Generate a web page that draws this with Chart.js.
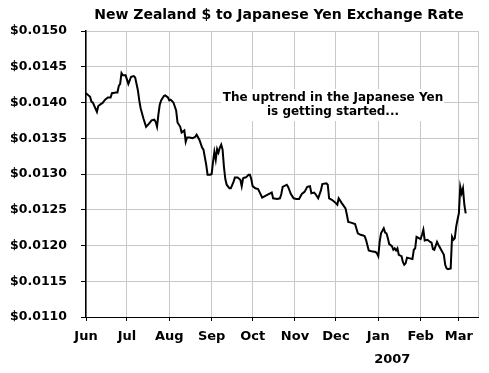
<!DOCTYPE html>
<html>
<head>
<meta charset="utf-8">
<script src="https://cdn.jsdelivr.net/npm/chart.js@4/dist/chart.umd.min.js"></script>
<style>
  html, body { margin: 0; padding: 0; background: #fff; }
  #wrap { width: 489px; height: 373px; }
</style>
</head>
<body>
<div id="wrap"><canvas id="rateChart" width="489" height="373"></canvas></div>
<script>
// NZD -> JPY, days counted from 1 Jun 2006
const days = [
  0, 3, 4, 5, 8, 9, 11, 12, 14, 16, 18, 19, 22, 23, 24, 25, 26, 27, 29, 31,
  32, 33, 35, 36, 38, 39, 40, 42, 44, 46, 48, 50, 51, 52, 53, 54, 55, 57, 58, 60,
  61, 62, 64, 66, 67, 69, 70, 72, 73, 74, 76, 78, 80, 81, 83, 85, 86, 88, 89, 91,
  92, 93, 94, 95, 96, 97, 98, 99, 100, 101, 102, 103, 105, 106, 108, 109, 111, 113, 114, 115,
  116, 117, 119, 120, 121, 122, 124, 126, 127, 129, 131, 133, 136, 137, 140, 142, 143, 144, 147, 148,
  150, 152, 154, 156, 158, 160, 162, 164, 165, 167, 168, 170, 172, 173, 176, 177, 178, 180, 182, 184,
  185, 187, 190, 191, 192, 194, 197, 199, 201, 203, 204, 205, 207, 209, 212, 213, 214, 215, 216, 218,
  219, 220, 221, 222, 224, 225, 226, 227, 228, 229, 231, 232, 233, 234, 235, 237, 239, 240, 241, 242,
  244, 245, 246, 247, 248, 250, 252, 253, 254, 255, 257, 258, 260, 262, 263, 264, 265, 267, 268, 269,
  270, 271, 272, 273, 274, 275, 276, 277, 278
];
const rates = [
  0.01413, 0.01408, 0.01401, 0.01400, 0.01387, 0.01395, 0.01398, 0.01399, 0.01404, 0.01407,
  0.01407, 0.01413, 0.01414, 0.01414, 0.01423, 0.01426, 0.01441, 0.01438, 0.01438, 0.01426,
  0.01431, 0.01436, 0.01437, 0.01435, 0.01417, 0.01403, 0.01392, 0.01378, 0.01366, 0.01370,
  0.01375, 0.01376, 0.01373, 0.01366, 0.01383, 0.01397, 0.01403, 0.01409, 0.01410, 0.01407,
  0.01403, 0.01404, 0.01400, 0.01389, 0.01372, 0.01366, 0.01358, 0.01361, 0.01345, 0.01351,
  0.01351, 0.01350, 0.01352, 0.01355, 0.01348, 0.01337, 0.01334, 0.01313, 0.01299, 0.01299,
  0.01300, 0.01317, 0.01331, 0.01320, 0.01335, 0.01330, 0.01337, 0.01341, 0.01334, 0.01310,
  0.01293, 0.01285, 0.01280, 0.01280, 0.01289, 0.01295, 0.01295, 0.01292, 0.01283, 0.01294,
  0.01295, 0.01295, 0.01299, 0.01299, 0.01293, 0.01283, 0.01280, 0.01279, 0.01275, 0.01267,
  0.01269, 0.01271, 0.01274, 0.01266, 0.01265, 0.01266, 0.01272, 0.01282, 0.01285, 0.01282,
  0.01272, 0.01266, 0.01265, 0.01265, 0.01272, 0.01275, 0.01282, 0.01283, 0.01273, 0.01274,
  0.01272, 0.01266, 0.01277, 0.01286, 0.01287, 0.01285, 0.01266, 0.01264, 0.01261, 0.01257,
  0.01266, 0.01260, 0.01252, 0.01243, 0.01233, 0.01232, 0.01230, 0.01217, 0.01215, 0.01214,
  0.01213, 0.01208, 0.01193, 0.01192, 0.01191, 0.01189, 0.01185, 0.01205, 0.01217, 0.01224,
  0.01218, 0.01217, 0.01210, 0.01202, 0.01199, 0.01194, 0.01196, 0.01193, 0.01196, 0.01187,
  0.01185, 0.01177, 0.01173, 0.01175, 0.01183, 0.01182, 0.01181, 0.01194, 0.01196, 0.01212,
  0.01210, 0.01209, 0.01215, 0.01222, 0.01207, 0.01208, 0.01205, 0.01204, 0.01195, 0.01194,
  0.01205, 0.01201, 0.01194, 0.01187, 0.01173, 0.01168, 0.01167, 0.01168, 0.01212, 0.01208,
  0.01210, 0.01226, 0.01236, 0.01245, 0.01282, 0.01273, 0.01280, 0.01257, 0.01245
];

// month starts (days from 1 Jun 2006) and their labels
const monthDays = [0, 30, 61, 92, 122, 153, 183, 214, 245, 273];
const monthLabels = ['Jun', 'Jul', 'Aug', 'Sep', 'Oct', 'Nov', 'Dec', 'Jan', 'Feb', 'Mar'];
const lastDay = 287;
const yearLabel = '2007';

const chartTitle = 'New Zealand $ to Japanese Yen Exchange Rate';
const noteLines = ['The uptrend in the Japanese Yen', 'is getting started...'];

const FONT = 'DejaVu Sans';
Chart.defaults.font.family = FONT;
Chart.defaults.color = '#000';

// title, note box and year label drawn on the canvas
const textPlugin = {
  id: 'texts',
  beforeDatasetsDraw(chart) {
    const ctx = chart.ctx;
    ctx.save();
    ctx.fillStyle = '#fff';
    ctx.fillRect(221, 89, 223, 32);
    ctx.fillStyle = '#000';
    ctx.font = 'bold 12px ' + FONT;
    ctx.textAlign = 'center';
    ctx.textBaseline = 'middle';
    ctx.fillText(noteLines[0], 333, 98);
    ctx.fillText(noteLines[1], 333, 112);
    ctx.restore();
  },
  afterDraw(chart) {
    const ctx = chart.ctx;
    const x = chart.scales.x;
    ctx.save();
    ctx.fillStyle = '#000';
    ctx.textAlign = 'center';
    ctx.textBaseline = 'middle';
    ctx.font = 'bold 14px ' + FONT;
    ctx.fillText(chartTitle, 279, 15);
    ctx.font = 'bold 13px ' + FONT;
    ctx.fillText(yearLabel, x.getPixelForValue(monthDays[7]) + 14, 360);
    ctx.restore();
  }
};

const points = days.map((d, i) => ({ x: d, y: rates[i] }));

new Chart(document.getElementById('rateChart'), {
  type: 'line',
  data: {
    datasets: [{
      data: points,
      borderColor: '#000',
      borderWidth: 2,
      pointRadius: 0,
      tension: 0,
      fill: false
    }]
  },
  options: {
    responsive: false,
    animation: false,
    layout: { padding: { top: 31, right: 11, left: 0, bottom: 0 } },
    plugins: {
      legend: { display: false },
      tooltip: { enabled: false }
    },
    scales: {
      x: {
        type: 'linear',
        min: 0,
        max: lastDay,
        afterBuildTicks(scale) {
          scale.ticks = monthDays.concat([lastDay]).map(v => ({ value: v }));
        },
        afterFit(scale) { scale.height = 56; },
        ticks: {
          autoSkip: false,
          maxRotation: 0,
          padding: 8,
          font: { size: 13, weight: 'bold' },
          callback(value) {
            const i = monthDays.indexOf(value);
            return i >= 0 ? monthLabels[i] : '';
          }
        },
        grid: {
          color: '#c8c8c8',
          lineWidth: 1,
          tickLength: 4,
          tickColor: ctx => (ctx.tick && ctx.tick.value === lastDay) ? 'rgba(0,0,0,0)' : '#000'
        },
        border: { color: '#000', width: 1 }
      },
      y: {
        min: 0.011,
        max: 0.015,
        afterFit(scale) { scale.width = 86; },
        ticks: {
          stepSize: 0.0005,
          padding: 14,
          font: { size: 12.5, weight: 'bold' },
          callback: v => '$' + v.toFixed(4)
        },
        grid: {
          color: '#c8c8c8',
          lineWidth: 1,
          tickLength: 5,
          tickColor: '#000'
        },
        border: { color: '#000', width: 1.5 }
      }
    }
  },
  plugins: [textPlugin]
});
</script>
</body>
</html>
